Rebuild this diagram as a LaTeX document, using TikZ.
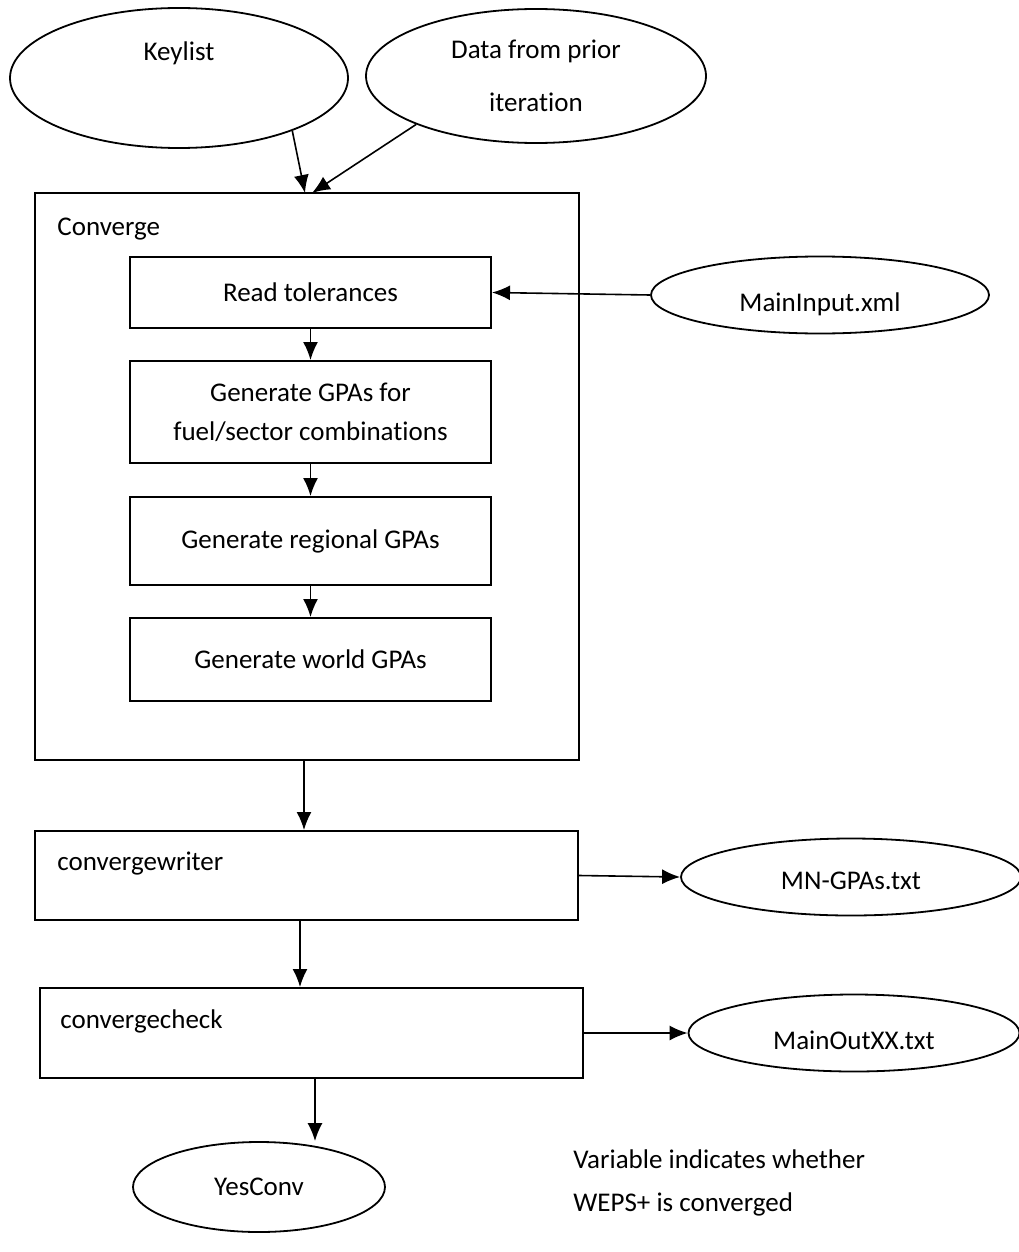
\documentclass[tikz,border=0pt]{standalone}
\usepackage{fontspec}
\setmainfont{Carlito}[Ligatures=NoCommon]
\usetikzlibrary{shapes.geometric,arrows.meta,calc}
\tikzset{
  box/.style={draw, line width=1pt, rectangle, inner sep=0pt, align=center},
  oval/.style={draw, line width=0.9pt, ellipse, inner sep=0pt, align=center},
  arr/.style={line width=0.8pt, -{Latex[length=9pt,width=7.5pt]}},
  lbl/.style={anchor=west, inner sep=0pt, align=left}
}
\newcommand{\lowertext}[2]{\raisebox{-#1}[\height][\depth]{#2}}
\begin{document}
\begin{tikzpicture}[x=0.5pt,y=-0.5pt,font=\fontsize{13.5pt}{19.5pt}\selectfont]
\fill[white] (0,0) rectangle (1018,1252);
\useasboundingbox (0,0) rectangle (1018,1252);

% input ellipses
\node[oval, minimum width=169pt, minimum height=70pt] (kl) at (179,78) {Keylist\\[7pt]\mbox{}};
\node[oval, minimum width=170pt, minimum height=67pt] (dp) at (536,76) {Data from prior\\[7pt]iteration};

% Converge container
\node[box, minimum width=272pt, minimum height=283.5pt] (conv) at (307,476.5) {};
\node[lbl] (convl) at (57,229) {Converge};
\coordinate (cin1) at (305,193);
\coordinate (cin2) at (312,193);

% inner steps
\node[box, minimum width=180.5pt, minimum height=35.5pt] (rt) at (310.5,292.5) {Read tolerances};
\node[box, minimum width=180.5pt, minimum height=51pt] (gg) at (310.5,412) {Generate GPAs for\\fuel/sector combinations};
\node[box, minimum width=180.5pt, minimum height=44pt] (rg) at (310.5,541) {Generate regional GPAs};
\node[box, minimum width=180.5pt, minimum height=41.5pt] (wg) at (310.5,659.5) {Generate world GPAs};

\node[oval, minimum width=169pt, minimum height=38.5pt] (mi) at (820,295) {\lowertext{4.5pt}{MainInput.xml}};

% writer / check
\node[box, minimum width=271.5pt, minimum height=44.5pt] (cw) at (306.5,875.5) {};
\node[lbl] (cwl) at (57,864) {convergewriter};
\node[oval, minimum width=170pt, minimum height=38.5pt] (mn) at (851,877) {\lowertext{2pt}{MN-GPAs.txt}};

\node[box, minimum width=271.5pt, minimum height=45pt] (cc) at (311.5,1033) {};
\node[lbl] (ccl) at (60,1021) {convergecheck};
\node[oval, minimum width=165.5pt, minimum height=38.5pt] (mo) at (854,1033) {\lowertext{3.5pt}{MainOutXX.txt}};

\node[oval, minimum width=126pt, minimum height=45pt] (yc) at (259,1187) {YesConv};
\node[lbl] (note) at (573,1183) {Variable indicates whether\\[2pt]WEPS+ is converged};

% connectors
\draw[arr] (kl.-25) -- (cin1);
\draw[arr] (dp.-158) -- (cin2);
\draw[arr] (mi.west) -- (rt.east);
\draw[arr] (rt.south) -- (gg.north);
\draw[arr] (gg.south) -- (rg.north);
\draw[arr] (rg.south) -- (wg.north);
\draw[arr] (304,0 |- conv.south) -- (304,0 |- cw.north);
\draw[arr] (300,0 |- cw.south) -- (300,0 |- cc.north);
\draw[arr] (315,0 |- cc.south) -- (315,0 |- yc.north);
\draw[arr] (cw.east) -- (mn.west);
\draw[arr] (cc.east) -- (mo.west);
\end{tikzpicture}
\end{document}
